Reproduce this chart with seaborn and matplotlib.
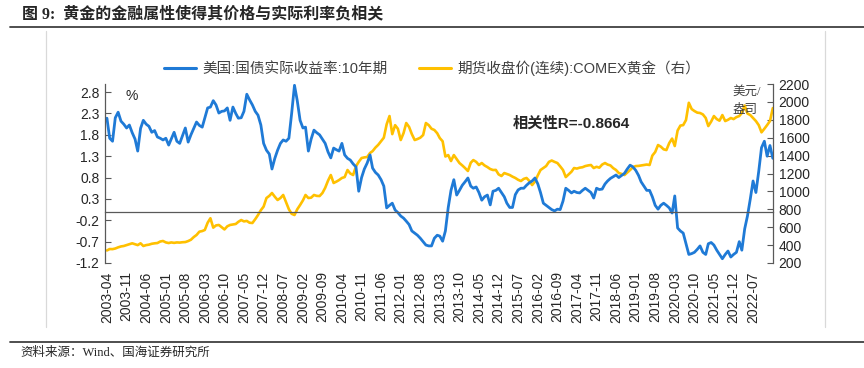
import pandas as pd
import matplotlib
matplotlib.use("Agg")
import matplotlib.pyplot as plt
from matplotlib.lines import Line2D
from matplotlib.ticker import FixedLocator, FixedFormatter
import seaborn as sns

# 美国10年期国债实际收益率 (%), 月度, 2003-04 起
real_rate = [
    2.19, 1.72, 1.65, 2.20, 2.33, 2.12, 2.05, 1.96, 2.03, 1.85,
    1.70, 1.42, 1.95, 2.14, 2.05, 2.00, 1.86, 1.90, 1.75, 1.72,
    1.68, 1.72, 1.56, 1.70, 1.86, 1.65, 1.60, 1.78, 1.96, 1.63,
    1.80, 1.95, 2.10, 2.02, 1.98, 2.19, 2.43, 2.45, 2.60, 2.50,
    2.31, 2.35, 2.36, 2.43, 2.14, 2.45, 2.30, 2.19, 2.20, 2.35,
    2.75, 2.62, 2.50, 2.35, 2.26, 2.03, 1.60, 1.44, 1.35, 1.00,
    1.25, 1.44, 1.60, 1.68, 1.65, 1.72, 2.30, 2.96, 2.60, 2.14,
    1.96, 1.98, 1.42, 1.70, 1.91, 1.85, 1.80, 1.70, 1.60, 1.40,
    1.26, 1.49, 1.45, 1.42, 1.60, 1.33, 1.25, 1.21, 1.12, 1.05,
    0.48, 0.80, 1.00, 1.14, 1.33, 1.02, 0.92, 0.86, 0.75, 0.60,
    0.09, 0.15, 0.20, 0.04, -0.02, -0.10, -0.15, -0.22, -0.30, -0.45,
    -0.50, -0.55, -0.62, -0.70, -0.78, -0.80, -0.80, -0.62, -0.55, -0.57,
    -0.69, -0.45, 0.10, 0.50, 0.75, 0.39, 0.50, 0.62, 0.70, 0.79,
    0.60, 0.55, 0.58, 0.45, 0.27, 0.35, 0.39, 0.16, 0.48, 0.50,
    0.55, 0.45, 0.35, 0.20, 0.10, 0.10, 0.40, 0.51, 0.55, 0.55,
    0.62, 0.68, 0.72, 0.79, 0.65, 0.45, 0.20, 0.15, 0.10, 0.05,
    0.02, 0.06, 0.05, 0.25, 0.55, 0.50, 0.44, 0.48, 0.45, 0.44,
    0.50, 0.55, 0.50, 0.45, 0.32, 0.55, 0.52, 0.53, 0.65, 0.72,
    0.78, 0.82, 0.86, 0.80, 0.85, 0.90, 1.00, 1.09, 1.05, 0.97,
    0.85, 0.70, 0.60, 0.50, 0.50, 0.35, 0.15, 0.06, 0.15, 0.20,
    0.15, 0.09, -0.03, 0.37, -0.38, -0.45, -0.50, -0.75, -1.00, -0.98,
    -0.95, -0.88, -0.80, -0.95, -1.00, -0.75, -0.72, -0.78, -0.90, -1.00,
    -1.10, -1.00, -0.92, -1.06, -1.00, -0.95, -0.70, -0.90, -0.40, -0.10,
    0.30, 0.72, 0.45, 0.95, 1.50, 1.65, 1.30, 1.55, 1.25,
]

# COMEX黄金期货收盘价(连续) (美元/盎司)
gold = [
    340, 356, 355, 362, 375, 385, 390, 400, 410, 420,
    410, 400, 420, 390, 400, 405, 415, 420, 423, 440,
    446, 430, 423, 430, 425, 430, 428, 432, 434, 445,
    460, 490, 513, 550, 557, 569, 650, 700, 595, 620,
    625, 600, 575, 610, 625, 630, 636, 660, 680, 665,
    670, 650, 647, 690, 736, 790, 830, 926, 950, 982,
    940, 904, 926, 960, 880, 800, 750, 736, 800, 848,
    900, 960, 926, 930, 960, 950, 948, 982, 1040, 1120,
    1183, 1094, 1110, 1127, 1150, 1160, 1239, 1200, 1183, 1280,
    1330, 1373, 1380, 1384, 1429, 1450, 1490, 1520, 1560, 1600,
    1750, 1842, 1640, 1740, 1700, 1574, 1652, 1764, 1720, 1640,
    1574, 1585, 1600, 1630, 1764, 1740, 1700, 1686, 1650, 1596,
    1560, 1390, 1406, 1339, 1406, 1360, 1317, 1290, 1261, 1228,
    1320, 1350, 1330, 1295, 1317, 1290, 1272, 1250, 1239, 1240,
    1190, 1172, 1205, 1195, 1183, 1165, 1150, 1130, 1116, 1140,
    1150, 1116, 1071, 1110, 1180, 1239, 1261, 1283, 1330, 1345,
    1330, 1317, 1280, 1239, 1160, 1190, 1220, 1261, 1255, 1265,
    1270, 1283, 1290, 1295, 1261, 1275, 1265, 1300, 1317, 1300,
    1290, 1260, 1239, 1205, 1195, 1183, 1210, 1239, 1270, 1283,
    1285, 1290, 1295, 1300, 1295, 1400, 1440, 1518, 1500, 1470,
    1462, 1540, 1590, 1507, 1680, 1735, 1741, 1797, 1990, 1920,
    1898, 1880, 1876, 1860, 1820, 1730, 1780, 1842, 1808, 1790,
    1853, 1786, 1800, 1820, 1808, 1830, 1842, 1876, 1960, 1870,
    1853, 1820, 1786, 1740, 1660, 1700, 1741, 1786, 1931,
]

dates = pd.date_range("2003-04-01", periods=len(real_rate), freq="MS")
# 每7个月一个刻度, 2003-04 至 2022-07
tick_dates = dates[:232:7]
tick_labels = [d.strftime("%Y-%m") for d in tick_dates]

df = pd.DataFrame({"date": dates, "real_rate": real_rate, "gold": gold})

blue = "#1F7AD6"
yellow = "#FFC000"
grey = "#595959"

sns.set_style("white")
plt.rcParams["font.family"] = ["Liberation Sans", "Noto Sans CJK SC"]
cjk_serif = ["Liberation Serif", "Noto Sans CJK SC"]

fig = plt.figure(figsize=(8.64, 3.68), dpi=100)
ax = fig.add_axes([105 / 864, 1 - 263 / 368, 668 / 864, 179 / 368])
ax2 = ax.twinx()

sns.lineplot(data=df, x="date", y="real_rate", ax=ax, color=blue, lw=2.0)
sns.lineplot(data=df, x="date", y="gold", ax=ax2, color=yellow, lw=1.9)
ax.set_zorder(ax2.get_zorder() + 1)
ax.patch.set_visible(False)

ax.set_xlim(dates[0] - pd.Timedelta(days=21), dates[-1] + pd.Timedelta(days=2))
ax.set_ylim(-1.2, 2.99)
ax2.set_ylim(200, 2200)
ax.set_xlabel("")
ax.set_ylabel("")
ax2.set_ylabel("")

ax.set_yticks([-1.2 + 0.5 * i for i in range(9)])
ax.set_yticklabels([f"{-1.2 + 0.5 * i:.1f}" for i in range(9)])
ax2.set_yticks(range(200, 2201, 200))

ax.spines["bottom"].set_position(("data", 0))
ax.tick_params(axis="x", direction="in", length=4, width=0.8, color=grey,
               pad=43, labelsize=10, labelrotation=90)
ax.tick_params(axis="y", direction="in", length=4, width=0.8, color=grey,
               labelsize=10, pad=4)
ax2.tick_params(axis="y", direction="in", length=4, width=0.8, color=grey,
                labelsize=10, pad=4)

x_num = [matplotlib.dates.date2num(d) for d in tick_dates]
ax.xaxis.set_major_locator(FixedLocator(x_num))
ax.xaxis.set_major_formatter(FixedFormatter(tick_labels))
ax.xaxis.set_minor_locator(FixedLocator([]))
for lab in ax.get_xticklabels():
    lab.set_rotation(90)
    lab.set_va("top")
    lab.set_ha("center")

for a in (ax, ax2):
    a.spines["top"].set_visible(False)
    for s in a.spines.values():
        s.set_color(grey)
        s.set_linewidth(0.9)
ax.spines["right"].set_visible(False)
ax2.spines["left"].set_visible(False)
ax2.spines["bottom"].set_visible(False)
ax.grid(False)
ax2.grid(False)

ax.text(0.03, 0.97, "%", transform=ax.transAxes, fontsize=10, va="top")
fig.text(513 / 864, 1 - 123 / 368, "相关性R=-0.8664", fontsize=11, fontweight="bold",
         va="center")
fig.text(732 / 864, 1 - 92 / 368, "美元/", fontsize=9, family=cjk_serif,
         color="#404040", va="center")
fig.text(732 / 864, 1 - 110 / 368, "盎司", fontsize=9, family=cjk_serif,
         color="#404040", va="center")

handles = [Line2D([], [], color=blue, lw=2.2), Line2D([], [], color=yellow, lw=2.2)]
fig.legend(handles, ["美国:国债实际收益率:10年期", "期货收盘价(连续):COMEX黄金（右）"],
           loc="center", bbox_to_anchor=(0.5, 1 - 68 / 368), ncol=2, frameon=False,
           fontsize=10.5, handlelength=2.2, columnspacing=2.2, handletextpad=0.4,
           labelcolor="#404040")

# 标题、分隔线与来源
fig.text(22 / 864, 1 - 14 / 368, "图 9:  黄金的金融属性使得其价格与实际利率负相关",
         fontsize=11.5, fontweight="bold", family=cjk_serif, va="center")
fig.add_artist(Line2D([10 / 864, 1], [1 - 27 / 368] * 2, color="#404040", lw=1.3))
fig.add_artist(Line2D([10 / 864, 1], [1 - 342 / 368] * 2, color="#404040", lw=1.3))
fig.add_artist(Line2D([46 / 864] * 2, [1 - 31 / 368, 1 - 327 / 368], color="#d9d9d9", lw=0.9))
fig.add_artist(Line2D([825 / 864] * 2, [1 - 31 / 368, 1 - 327 / 368], color="#d9d9d9", lw=0.9))
fig.text(20 / 864, 1 - 353 / 368, "资料来源：Wind、国海证券研究所", fontsize=9,
         family=cjk_serif, va="center")

fig.savefig("out.png", dpi=100)
